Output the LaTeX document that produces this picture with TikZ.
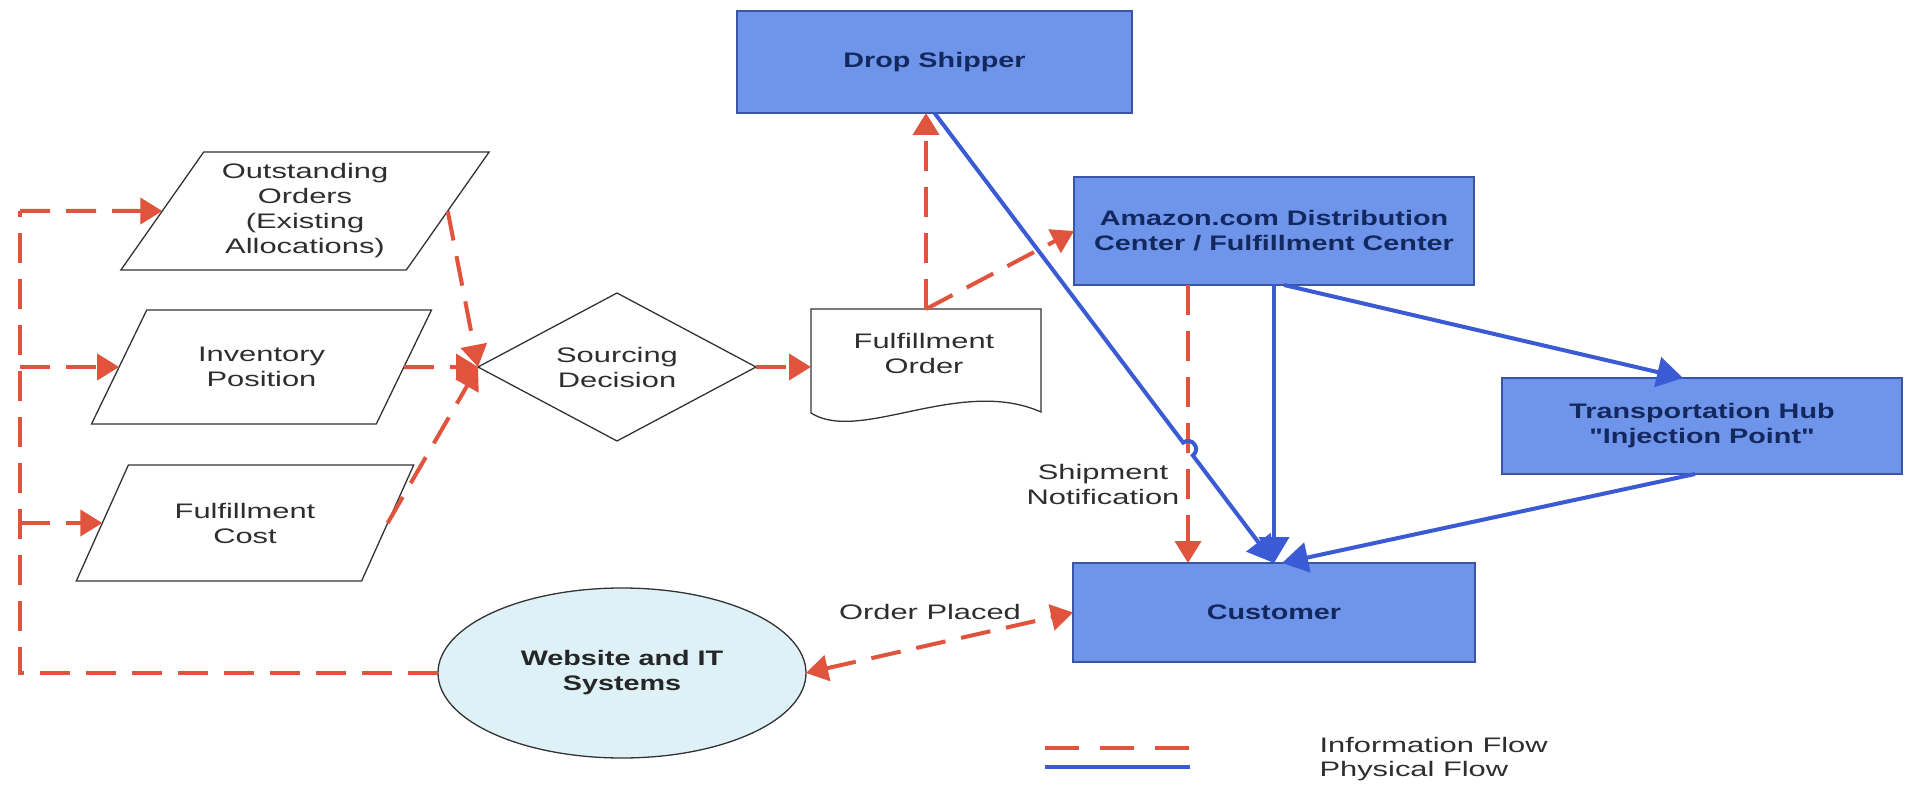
\documentclass[tikz,border=0pt]{standalone}
\usepackage{fontspec}
\setmainfont{Liberation Sans}[FakeStretch=1.47]
\newfontfamily\boxfont{Liberation Sans}[FakeStretch=1.37]
\usetikzlibrary{shapes.geometric,arrows.meta,calc}
\definecolor{infored}{HTML}{E0533D}
\definecolor{physblue}{HTML}{3A5BD4}
\definecolor{boxfill}{HTML}{6E95EA}
\definecolor{boxborder}{HTML}{3A55A8}
\definecolor{boxtext}{HTML}{142860}
\definecolor{webfill}{HTML}{DDF1F6}
\definecolor{textgray}{HTML}{2E2E2E}
\begin{document}
\begin{tikzpicture}[x=1pt,y=-1pt,
  txt/.style={font=\fontsize{21}{25}\selectfont, text=textgray, align=center},
  bluebox/.style={rectangle, draw=boxborder, fill=boxfill, line width=1.5pt, inner sep=0pt, outer sep=0pt,
    font=\boxfont\bfseries\fontsize{21}{25}\selectfont, text=boxtext, align=center},
  para/.style={trapezium, draw=black!80, line width=1.3pt, trapezium stretches=true, inner sep=1pt, outer sep=0pt,
    font=\fontsize{21}{25}\selectfont, text=textgray, align=center},
  shapeline/.style={draw=black!80, line width=1.3pt},
  info/.style={draw=infored, line width=4pt, dash pattern=on 30pt off 16pt,
    -{Triangle[length=22pt,width=26pt]}},
  infoline/.style={draw=infored, line width=4pt, dash pattern=on 30pt off 16pt},
  phys/.style={draw=physblue, line width=4pt, -{Triangle[length=26pt,width=30pt]}},
  physline/.style={draw=physblue, line width=4pt}]
\useasboundingbox (0,0) rectangle (1908,786);
\fill[white] (0,0) rectangle (1908,786);

% blue boxes
\node[bluebox, minimum width=395pt, minimum height=102pt] (ds) at (934.5,62) {Drop Shipper};
\node[bluebox, minimum width=400pt, minimum height=108pt] (dc) at (1274,231) {Amazon.com Distribution\\Center / Fulfillment Center};
\node[bluebox, minimum width=400pt, minimum height=96pt] (hub) at (1702,426) {Transportation Hub\\"Injection Point"};
\node[bluebox, minimum width=402pt, minimum height=99pt] (cust) at (1274,612.5) {Customer};

% website ellipse
\node[ellipse, draw=black!80, fill=webfill, line width=1.3pt, minimum width=368pt, minimum height=170pt, inner sep=0pt, outer sep=0pt,
  font=\boxfont\bfseries\fontsize{21}{25}\selectfont, text=black!85, align=center] (web) at (622,673) {Website and IT\\Systems};

% parallelograms
\node[para, trapezium left angle=54.5, trapezium right angle=125.5, minimum width=370pt, minimum height=118pt] (oo) at (305,211)
  {Outstanding\\Orders\\(Existing\\Allocations)};
\node[para, trapezium left angle=53.3, trapezium right angle=126.7, minimum width=341pt, minimum height=114pt] (ip) at (261.5,367)
  {Inventory\\Position};
\node[para, trapezium left angle=53.1, trapezium right angle=126.9, minimum width=338pt, minimum height=116pt] (fc) at (245,523)
  {Fulfillment\\Cost};

% sourcing decision diamond
\node[diamond, shapeline, aspect=1.88, minimum width=278pt, minimum height=148pt, inner sep=0pt, outer sep=0pt,
  font=\fontsize{21}{25}\selectfont, text=textgray, align=center] (sd) at (617,367) {Sourcing\\Decision};

% fulfillment order document
\node[minimum width=230pt, minimum height=116pt, inner sep=0pt, outer sep=0pt] (fo) at (926,367) {};
\draw[shapeline, fill=white] (811,309) -- (1041,309) -- (1041,412) .. controls (960,376) and (860,444) .. (811,413) -- cycle;
\node[txt] (fotext) at (924,353) {Fulfillment\\Order};

% left information bus
\coordinate (busTop) at (20,211);
\coordinate (busBot) at (20,673);
\draw[infoline] (web.west) -- (busBot) -- (busTop);
\draw[info] (busTop) -- (oo.west);
\draw[info] (busTop |- ip.west) -- (ip.west);
\draw[info] (busTop |- fc.west) -- (fc.west);

% into the sourcing decision
\draw[info] (oo.east) -- (sd.west);
\draw[info] (ip.east) -- (sd.west);
\draw[info] (fc.east) -- (sd.west);
\draw[info] (sd.east) -- (fo.west);

% from fulfillment order
\draw[info] (fo.north) -- (fo.north |- ds.south);
\draw[info] (fo.north) -- (dc.west);

% shipment notification
\coordinate (snTop) at ($(dc.south west)+(114,0)$);
\draw[info] (snTop) -- (snTop |- cust.north);
\node[txt] (snlabel) at (1103,484) {Shipment\\Notification};

% physical flows
\coordinate (hc) at ($(ds.south)!0.7467!(cust.north)$);
\coordinate (h1) at ($(hc)!8pt!(ds.south)$);
\coordinate (h2) at ($(hc)!8pt!(cust.north)$);
\draw[phys] (ds.south) -- (h1) .. controls ($(h1)+(8.5,-6.4)$) and ($(h2)+(8.5,-6.4)$) .. (h2) -- (cust.north);
\draw[phys] (dc.south) -- (cust.north);
\draw[phys] ($(dc.south)+(10,0)$) -- ($(hub.north)+(-19,0)$);
\draw[phys] ($(hub.south)+(-7,0)$) -- ($(cust.north)+(8,0)$);

% order placed
\draw[infoline, {Triangle[length=22pt,width=26pt]}-{Triangle[length=22pt,width=26pt]}] (web.east) -- (cust.west);
\node[txt] (oplabel) at (930,612) {Order Placed};

% legend
\coordinate (l1a) at (1045,748);
\coordinate (l1b) at (1190,748);
\coordinate (l2a) at (1045,767);
\coordinate (l2b) at (1190,767);
\draw[infoline, dash pattern=on 34pt off 21pt] (l1a) -- (l1b);
\draw[physline] (l2a) -- (l2b);
\node[txt, anchor=west] (leg1) at (1316,745) {Information Flow};
\node[txt, anchor=west] (leg2) at (1316,771) {Physical Flow};
\end{tikzpicture}
\end{document}
